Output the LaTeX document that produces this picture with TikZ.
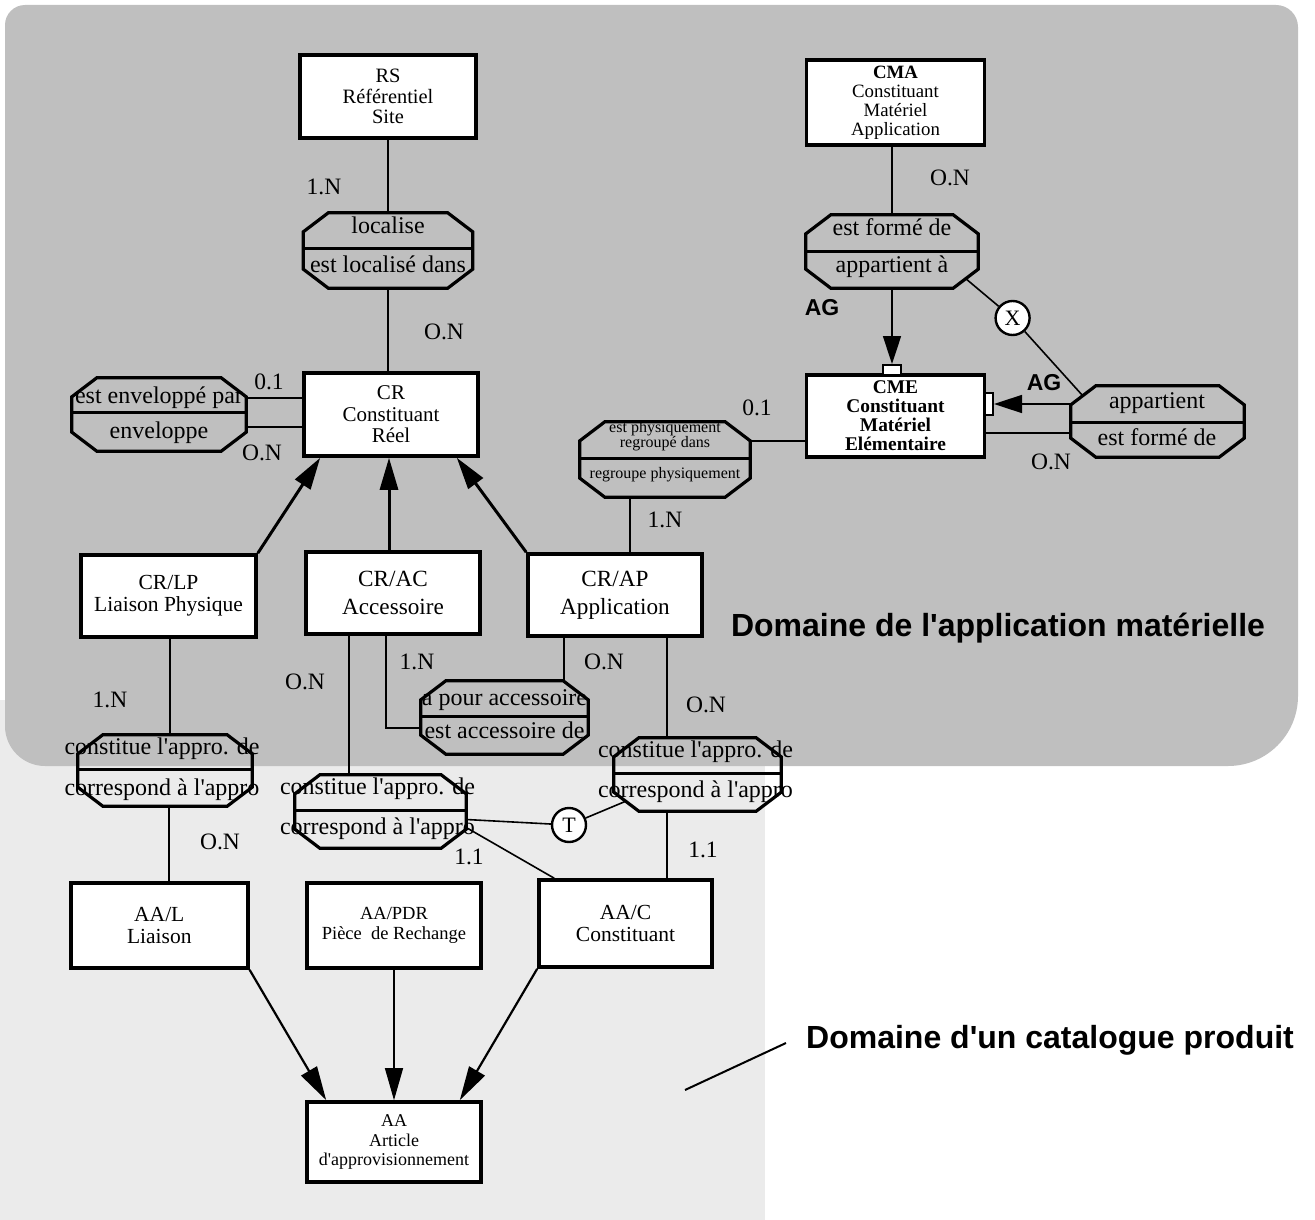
\documentclass[tikz,border=0pt]{standalone}
\usepackage{fontspec}
\setmainfont{Liberation Serif}
\setsansfont{Liberation Sans}
\usetikzlibrary{arrows.meta,calc}

% straight apostrophe
\newcommand{\ap}{\textquotesingle}
% chamfered (octagonal) outline around an invisible relation node
\newcommand{\octagonof}[1]{%
  \draw[octa] ($(#1.north west)+(25,0)$) -- ($(#1.north east)+(-25,0)$)
    -- ($(#1.north east)+(0,19)$) -- ($(#1.south east)+(0,-19)$)
    -- ($(#1.south east)+(-25,0)$) -- ($(#1.south west)+(25,0)$)
    -- ($(#1.south west)+(0,-19)$) -- ($(#1.north west)+(0,19)$) -- cycle;}
% horizontal split of a relation at height #2
\newcommand{\splitof}[2]{%
  \draw[divider] (#1.west |- 0,#2) -- (#1.east |- 0,#2);}

\begin{document}
\begin{tikzpicture}[x=1pt,y=-1pt,
  appdom/.style={fill=black!25},
  catdom/.style={fill=black!8},
  ent/.style={draw, line width=3.6pt, fill=white, inner sep=0pt, align=center},
  relarea/.style={draw=none, inner sep=0pt},
  octa/.style={line width=3.2pt, line join=miter},
  divider/.style={line width=3pt},
  link/.style={line width=1.6pt},
  isa/.style={line width=3pt, -{Triangle[length=32pt,width=18pt]}},
  gen/.style={line width=2.2pt, -{Triangle[length=34pt,width=18pt]}},
  thinarr/.style={line width=1.2pt, -{Triangle[length=32pt,width=18pt]}},
  agg/.style={line width=1.6pt, -{Triangle[length=28pt,width=18pt]}},
  aggbox/.style={draw, line width=2pt, fill=white, inner sep=0pt},
  reltxt/.style={font=\fontsize{24}{24}\selectfont, inner sep=0pt, text height=16pt, text depth=5pt},
  smalltxt/.style={font=\fontsize{16}{15}\selectfont, inner sep=0pt, align=center},
  card/.style={font=\fontsize{23.5}{24}\selectfont, inner sep=0pt},
  constr/.style={draw, circle, line width=2.4pt, fill=white, minimum size=34pt, inner sep=0pt, font=\fontsize{22}{22}\selectfont},
  dom/.style={font=\sffamily\bfseries\fontsize{32}{34}\selectfont, inner sep=0pt},
  aglbl/.style={font=\sffamily\bfseries\fontsize{23}{23}\selectfont, inner sep=0pt}]

\useasboundingbox (0,0) rectangle (1315,1220);

% the two domains
\fill[catdom] (0,700) rectangle (765,1220);
\fill[appdom] (650,5) [rounded corners=22] -- (1298,5) [rounded corners=70] -- (1298,766)
  [rounded corners=40] -- (5,766) [rounded corners=20] -- (5,5) -- cycle;

% entities
\node[ent, minimum width=176, minimum height=83, font=\fontsize{20.4}{20.5}\selectfont] (rs) at (388,96.5) {RS\\Référentiel\\Site};
\node[ent, minimum width=178, minimum height=85, font=\fontsize{18.8}{19}\selectfont] (cma) at (895.5,102.5) {\textbf{CMA}\\Constituant\\Matériel\\Application};
\node[ent, minimum width=174, minimum height=83, font=\fontsize{21}{21.5}\selectfont] (cr) at (391,414.5) {CR\\Constituant\\Réel};
\node[ent, minimum width=178, minimum height=82, font=\bfseries\fontsize{19.4}{19}\selectfont] (cme) at (895.5,416) {CME\\Constituant\\Matériel\\Elémentaire};
\node[ent, minimum width=175, minimum height=82, font=\fontsize{21.5}{22}\selectfont] (crlp) at (168.5,596) {CR/LP\\Liaison Physique};
\node[ent, minimum width=174, minimum height=82, font=\fontsize{23.2}{28}\selectfont] (crac) at (393,593) {CR/AC\\Accessoire};
\node[ent, minimum width=174, minimum height=82, font=\fontsize{23.2}{28}\selectfont] (crap) at (615,595) {CR/AP\\Application};
\node[ent, minimum width=177, minimum height=85, font=\fontsize{21.5}{22}\selectfont] (aal) at (159.3,925.5) {AA/L\\Liaison};
\node[ent, minimum width=174, minimum height=85, font=\fontsize{18.5}{20}\selectfont] (aapdr) at (394,925.5) {AA/PDR\\Pièce\ \ de Rechange};
\node[ent, minimum width=173, minimum height=87, font=\fontsize{21.5}{22}\selectfont] (aac) at (625.5,923.5) {AA/C\\Constituant};
\node[ent, minimum width=174, minimum height=80, font=\fontsize{18}{19.5}\selectfont] (aa) at (394,1142) {AA\\Article\\d\ap approvisionnement};

% relations
\node[relarea, minimum width=169, minimum height=75] (loc) at (388,250.5) {};
\node[relarea, minimum width=174, minimum height=73] (env) at (159,414.5) {};
\node[relarea, minimum width=172, minimum height=73] (form) at (892,251.5) {};
\node[relarea, minimum width=173, minimum height=71] (app) at (1157.5,421.5) {};
\node[relarea, minimum width=170, minimum height=75] (phys) at (665,459.5) {};
\node[relarea, minimum width=167, minimum height=73] (acc) at (504.5,717.5) {};
\node[relarea, minimum width=174, minimum height=71] (lpap) at (165,770.5) {};
\node[relarea, minimum width=171, minimum height=73] (acap) at (380.5,811.5) {};
\node[relarea, minimum width=167, minimum height=73] (apap) at (697.5,774.5) {};

\foreach \r/\d in {loc/248, env/412, form/251, app/422, phys/458, acc/716, lpap/769, acap/810, apap/773}{
  \octagonof{\r}
  \splitof{\r}{\d}
}

% relation names
\node[reltxt] (loc-a) at (388,228) {localise};
\node[reltxt] (loc-b) at (388,267) {est localisé dans};
\node[reltxt] (env-a) at (159,398) {est enveloppé par};
\node[reltxt] (env-b) at (159,433) {enveloppe};
\node[reltxt] (form-a) at (892,230) {est formé de};
\node[reltxt] (form-b) at (892,267) {appartient à};
\node[reltxt] (app-a) at (1157,403) {appartient};
\node[reltxt] (app-b) at (1157,440) {est formé de};
\node[smalltxt] (phys-a) at (665,436) {est physiquement\\regroupé dans};
\node[smalltxt] (phys-b) at (665,475) {regroupe physiquement};
\node[reltxt] (acc-a) at (504.5,700) {a pour accessoire};
\node[reltxt] (acc-b) at (504.5,733) {est accessoire de};
\node[reltxt] (lpap-a) at (162,749) {constitue l\ap appro. de};
\node[reltxt] (lpap-b) at (162,790) {correspond à l\ap appro};
\node[reltxt] (acap-a) at (377.5,789) {constitue l\ap appro. de};
\node[reltxt] (acap-b) at (377.5,829) {correspond à l\ap appro};
\node[reltxt] (apap-a) at (695.5,752) {constitue l\ap appro. de};
\node[reltxt] (apap-b) at (695.5,792) {correspond à l\ap appro};

% aggregation markers and constraints
\node[aggbox, minimum width=18, minimum height=10] (aggr1) at (892,370) {};
\node[aggbox, minimum width=8, minimum height=22] (aggr2) at (989,404) {};
\node[constr] (xc) at (1012.6,318) {X};
\node[constr] (tc) at (569,825) {T};

% links
\draw[link] (rs) -- (loc);
\draw[link] (loc.south) -- (loc.south |- cr.north);
\draw[link] (env.east |- 0,398) -- (cr.west |- 0,398);
\draw[link] (env.east |- 0,427) -- (cr.west |- 0,427);
\draw[link] (cma.south -| form.north) -- (form.north);
\draw[agg] (form.south) -- (aggr1.north);
\draw[link] ($(form.south east)+(-13,-10)$) -- (xc);
\draw[link] (xc) -- ($(app.north west)+(12,10)$);
\draw[agg] (app.west |- aggr2) -- (aggr2.east);
\draw[link] (app.west |- 0,433) -- (cme.east |- 0,433);
\draw[link] (phys.east |- 0,441) -- (cme.west |- 0,441);
\draw[link] (phys.south -| 630,0) -- (crap.north -| 630,0);
\draw[isa] (crlp.north east) -- ($(cr.south west)+(18,0)$);
\draw[isa] (crac.north -| 389,0) -- (cr.south -| 389,0);
\draw[isa] (crap.north west) -- ($(cr.south east)+(-23,0)$);
\draw[link] (crlp.south -| 170,0) -- (lpap.north -| 170,0);
\draw[link] (lpap.south -| 169,0) -- (aal.north -| 169,0);
\draw[link] (crac.south -| 349,0) -- (acap.north -| 349,0);
\draw[link] (crac.south -| 386,0) |- ($(acc.west)+(0,10.5)$);
\draw[link] (crap.south -| 564,0) -- (acc.north -| 564,0);
\draw[link] (crap.south -| 667,0) -- (apap.north -| 667,0);
\draw[link] (apap.south -| 667,0) -- (aac.north -| 667,0);
\draw[link] ($(acap.east)+(0,8)$) -- (tc);
\draw[link] (tc) -- ($(apap.south west)+(12,-10)$);
\draw[link] ($(acap.east)+(0,16)$) -- ($(aac.north west)+(17,0)$);
\draw[gen] (aal.south east) -- ($(aa.north west)+(21,0)$);
\draw[thinarr] (aapdr) -- (aa);
\draw[gen] (aac.south west) -- ($(aa.north east)+(-23,0)$);

% cardinalities
\node[card] (c1) at (324,187) {1.N};
\node[card] (c2) at (444,332) {O.N};
\node[card] (c3) at (269,382) {0.1};
\node[card] (c4) at (262,453) {O.N};
\node[card] (c5) at (950,178) {O.N};
\node[card] (c6) at (757,408) {0.1};
\node[card] (c7) at (1051,462) {O.N};
\node[card] (c8) at (665,520) {1.N};
\node[card] (c9) at (110,700) {1.N};
\node[card] (c10) at (305,682) {O.N};
\node[card] (c11) at (417,662) {1.N};
\node[card] (c12) at (604,662) {O.N};
\node[card] (c13) at (706,705) {O.N};
\node[card] (c14) at (220,842) {O.N};
\node[card] (c15) at (469,857) {1.1};
\node[card] (c16) at (703,850) {1.1};
\node[aglbl] (ag1) at (822,308) {AG};
\node[aglbl] (ag2) at (1044,383) {AG};

% domain titles
\node[dom] (appdomlbl) at (998,628) {Domaine de l\ap application matérielle};
\node[dom, anchor=west] (catlbl) at (806,1040) {Domaine d\ap un catalogue produit};
\coordinate (tail) at (685,1090);
\draw[line width=2pt] (tail) -- ($(catlbl.west)+(-20,3)$);

\end{tikzpicture}
\end{document}
